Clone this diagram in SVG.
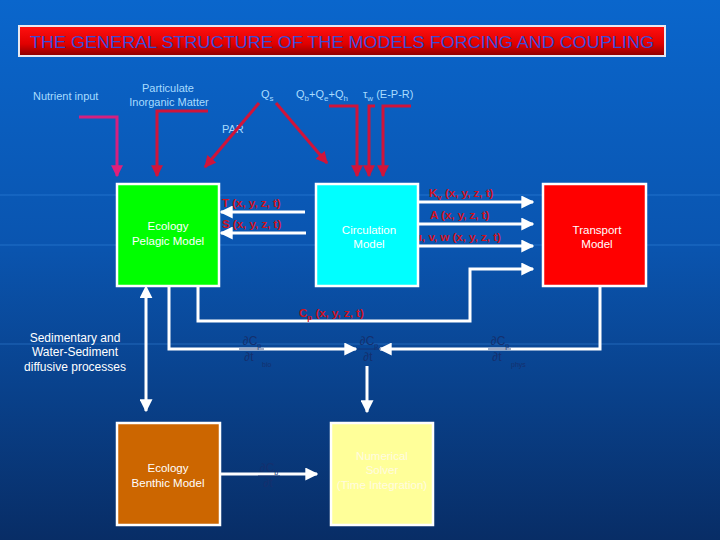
<svg xmlns="http://www.w3.org/2000/svg" width="720" height="540" viewBox="0 0 720 540">
<defs>
<linearGradient id="bg" x1="0" y1="0" x2="0" y2="1">
<stop offset="0" stop-color="#0a66cc"/>
<stop offset="0.45" stop-color="#0a55b0"/>
<stop offset="1" stop-color="#082d66"/>
</linearGradient>
<linearGradient id="tg" x1="0" y1="0" x2="0" y2="1">
<stop offset="0" stop-color="#ff1010"/>
<stop offset="0.6" stop-color="#e00000"/>
<stop offset="1" stop-color="#8a0000"/>
</linearGradient>
<marker id="aw" viewBox="0 0 10 10" refX="9" refY="5" markerUnits="userSpaceOnUse" markerWidth="13" markerHeight="13" orient="auto">
<path d="M0,0 L10,5 L0,10 z" fill="#ffffff"/>
</marker>
<marker id="awr" viewBox="0 0 10 10" refX="1" refY="5" markerUnits="userSpaceOnUse" markerWidth="13" markerHeight="13" orient="auto-start-reverse">
<path d="M0,0 L10,5 L0,10 z" fill="#ffffff"/>
</marker>
<marker id="ar" viewBox="0 0 10 10" refX="9" refY="5" markerUnits="userSpaceOnUse" markerWidth="12" markerHeight="12" orient="auto">
<path d="M0,0 L10,5 L0,10 z" fill="#d0143a"/>
</marker>
<marker id="am" viewBox="0 0 10 10" refX="9" refY="5" markerUnits="userSpaceOnUse" markerWidth="12" markerHeight="12" orient="auto">
<path d="M0,0 L10,5 L0,10 z" fill="#e0207a"/>
</marker>
</defs>
<style>
.lbl{font-family:"Liberation Sans","DejaVu Sans",sans-serif;font-size:11px;fill:#a8dcff}
.box{stroke:#ffffff;stroke-width:2.5}
.bt{font-family:"Liberation Sans","DejaVu Sans",sans-serif;font-size:11.5px;fill:#ffffff;text-anchor:middle}
.wt{font-family:"Liberation Sans","DejaVu Sans",sans-serif;font-size:12px;fill:#ffffff;text-anchor:middle}
.rt{font-family:"Liberation Sans","DejaVu Sans",sans-serif;font-size:11.5px;font-weight:bold;fill:#d0121e}
.dk{font-family:"Liberation Sans","DejaVu Sans",sans-serif;font-size:12px;fill:#14306e;text-anchor:middle}
.sm{font-family:"Liberation Sans","DejaVu Sans",sans-serif;font-size:7px;fill:#14306e}
.wl{fill:none;stroke:#ffffff;stroke-width:3}
.rl{fill:none;stroke:#d0143a;stroke-width:3}
</style>
<rect x="0" y="0" width="720" height="540" fill="url(#bg)"/>
<g opacity="0.25" stroke="#4a9cf0" stroke-width="1.5">
<line x1="0" y1="195" x2="720" y2="195"/>
<line x1="0" y1="245" x2="720" y2="245"/>
<line x1="0" y1="344" x2="720" y2="344"/>
</g>

<g id="title">
<rect x="19" y="26" width="646" height="30" fill="url(#tg)" stroke="#e8e8f0" stroke-width="2"/>
<text x="30" y="48" font-family="Liberation Sans, DejaVu Sans, sans-serif" font-size="17" fill="#3a4cd6" textLength="624" lengthAdjust="spacingAndGlyphs">THE GENERAL STRUCTURE OF THE MODELS FORCING AND COUPLING</text>
</g>

<g id="forcing-labels">
<text class="lbl" x="33" y="100">Nutrient input</text>
<text class="lbl" x="168" y="92" text-anchor="middle">Particulate</text>
<text class="lbl" x="169" y="106" text-anchor="middle">Inorganic Matter</text>
<text class="lbl" x="261" y="98" font-size="12">Q<tspan font-size="8" dy="3">s</tspan></text>
<text class="lbl" x="296" y="98" font-size="12">Q<tspan font-size="8" dy="3">b</tspan><tspan dy="-3">+Q</tspan><tspan font-size="8" dy="3">e</tspan><tspan dy="-3">+Q</tspan><tspan font-size="8" dy="3">h</tspan></text>
<text class="lbl" x="363" y="98" font-size="13">τ<tspan font-size="8" dy="3">w</tspan><tspan font-size="11" dy="-3"> (E-P-R)</tspan></text>
<text class="lbl" x="222" y="133">PAR</text>
</g>

<g id="connectors">
<!-- forcing -->
<polyline points="79,117 117,117 117,176" fill="none" stroke="#d62080" stroke-width="3" marker-end="url(#am)"/>
<polyline class="rl" points="208,111 157,111 157,176" marker-end="url(#ar)"/>
<line class="rl" x1="259" y1="103" x2="205" y2="167" marker-end="url(#ar)"/>
<line class="rl" x1="276" y1="103" x2="327" y2="163" marker-end="url(#ar)"/>
<polyline class="rl" points="329,106 357,106 357,176" marker-end="url(#ar)"/>
<polyline class="rl" points="375,106 369,106 369,176" marker-end="url(#ar)"/>
<polyline class="rl" points="411,106 383,106 383,176" marker-end="url(#ar)"/>
<!-- circulation to pelagic -->
<line class="wl" x1="305" y1="212" x2="221" y2="212" marker-end="url(#aw)"/>
<line class="wl" x1="306" y1="233" x2="221" y2="233" marker-end="url(#aw)"/>
<!-- circulation to transport -->
<line class="wl" x1="418" y1="202" x2="533" y2="202" marker-end="url(#aw)"/>
<line class="wl" x1="418" y1="224" x2="533" y2="224" marker-end="url(#aw)"/>
<line class="wl" x1="418" y1="246" x2="533" y2="246" marker-end="url(#aw)"/>
<!-- Cp loop -->
<polyline class="wl" points="198,286 198,321 470,321 470,269 533,269" marker-end="url(#aw)"/>
<!-- bio term -->
<polyline class="wl" points="169,286 169,349 356,349" marker-end="url(#aw)"/>
<!-- phys term -->
<polyline class="wl" points="600,286 600,349 380,349" marker-end="url(#aw)"/>
<!-- pelagic <-> benthic -->
<line class="wl" x1="146" y1="297" x2="146" y2="411" marker-start="url(#awr)" marker-end="url(#aw)"/>
<!-- to solver -->
<line class="wl" x1="367" y1="366" x2="367" y2="412" marker-end="url(#aw)"/>
<line class="wl" x1="220" y1="474" x2="317" y2="474" marker-end="url(#aw)"/>
</g>

<g id="connector-labels">
<text class="rt" x="222" y="207">T (x, y, z, t)</text>
<text class="rt" x="222" y="228">S (x, y, z, t)</text>
<text class="rt" x="429" y="197">K<tspan font-size="8" dy="3">v</tspan><tspan dy="-3"> (x, y, z, t)</tspan></text>
<text class="rt" x="430" y="219">A (x, y, z, t)</text>
<text class="rt" x="415" y="241">u, v, w (x, y, z, t)</text>
<text class="rt" x="299" y="317">C<tspan font-size="8" dy="3">p</tspan><tspan dy="-3"> (x, y, z, t)</tspan></text>
<g>
<text class="dk" x="252" y="345">∂C<tspan font-size="7" dy="3">p</tspan></text>
<line x1="239" y1="349" x2="264" y2="349" stroke="#14306e" stroke-width="0.8"/>
<text class="dk" x="249" y="361">∂t</text>
<text class="sm" x="262" y="367">bio</text>
</g>
<g>
<text class="dk" x="369" y="345">∂C<tspan font-size="7" dy="3">p</tspan></text>
<line x1="357" y1="349" x2="381" y2="349" stroke="#14306e" stroke-width="0.8"/>
<text class="dk" x="368" y="361">∂t</text>
</g>
<g>
<text class="dk" x="500" y="345">∂C<tspan font-size="7" dy="3">p</tspan></text>
<line x1="488" y1="349" x2="511" y2="349" stroke="#14306e" stroke-width="0.8"/>
<text class="dk" x="497" y="361">∂t</text>
<text class="sm" x="511" y="367">phys</text>
</g>
<g>
<text class="dk" x="269" y="472">∂C<tspan font-size="7" dy="3">b</tspan></text>
<line x1="258" y1="476" x2="280" y2="476" stroke="#14306e" stroke-width="0.8"/>
<text class="dk" x="268" y="487">∂t</text>
</g>
<text class="wt" x="75" y="342">Sedimentary and</text>
<text class="wt" x="75" y="356">Water-Sediment</text>
<text class="wt" x="75" y="371">diffusive processes</text>
</g>

<g id="pelagic">
<rect class="box" x="117" y="184" width="102" height="102" fill="#00ff00"/>
<text class="bt" x="168" y="230">Ecology</text>
<text class="bt" x="168" y="245">Pelagic Model</text>
</g>
<g id="circulation">
<rect class="box" x="316" y="184" width="102" height="102" fill="#00ffff"/>
<text class="bt" x="369" y="234">Circulation</text>
<text class="bt" x="369" y="248">Model</text>
</g>
<g id="transport">
<rect class="box" x="543" y="184" width="103" height="102" fill="#ff0000"/>
<text class="bt" x="597" y="234">Transport</text>
<text class="bt" x="597" y="248">Model</text>
</g>
<g id="benthic">
<rect class="box" x="117" y="423" width="103" height="102" fill="#cc6600"/>
<text class="bt" x="168" y="472">Ecology</text>
<text class="bt" x="168" y="487">Benthic Model</text>
</g>
<g id="solver">
<rect class="box" x="331" y="423" width="102" height="102" fill="#ffff99"/>
<text class="bt" x="382" y="460" fill="#fffbe0" style="fill:#fffbe0">Numerical</text>
<text class="bt" x="382" y="474" style="fill:#fffbe0">Solver</text>
<text class="bt" x="382" y="489" style="fill:#fffbe0">(Time Integration)</text>
</g>
</svg>
